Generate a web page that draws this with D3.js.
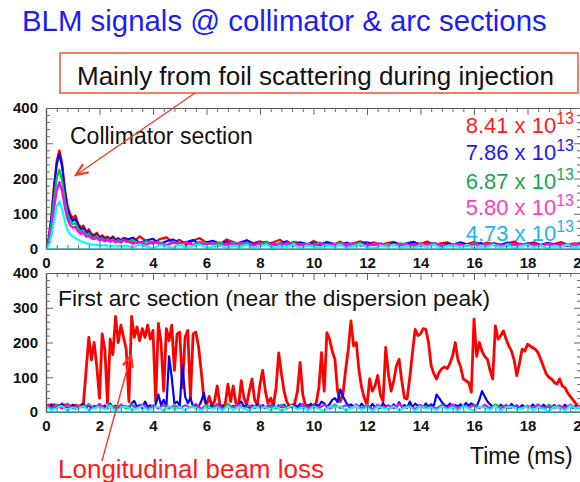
<!DOCTYPE html>
<html>
<head>
<meta charset="utf-8">
<script src="https://cdn.jsdelivr.net/npm/d3@7"></script>
<style>
  body { margin: 0; background: #fff; }
  svg { display: block; }
  text { font-family: "Liberation Sans", Arial, Helvetica, sans-serif; }
</style>
</head>
<body>
<svg width="580" height="482"></svg>
<script>
// intensities (protons per pulse) shown in the legend
const intensities = ["8.41", "7.86", "6.87", "5.80", "4.73"];
const seriesColors = ["#ff0000", "#0000ff", "#00c83c", "#ff00ff", "#00ffff"];
const legendColors = ["#ff1a1a", "#1a1aff", "#1aa650", "#ff3cc8", "#19b6f0"];
const xTicks = [0, 2, 4, 6, 8, 10, 12, 14, 16, 18, 20];
const yTicks = [0, 100, 200, 300, 400];

// collimator section, t = 0..2.9 step 0.1 then 3..20 step 0.25
const colRed = [8,30,90,180,250,280,245,175,125,100, 88,95,72,62,66,50,56,43,40,46, 33,39,31,35,29,36,27,31,25,32,
  30,18,36,22,15,28,33,19,26,12, 24,31,17,21,13,27,20,11,25,16, 22,14,19,26,12,20,17,10,23,15,
  18,12,21,9,16,22,14,19,11,17, 20,13,9,18,15,21,12,16,19,10, 17,14,20,11,18,13,9,16,21,12,
  15,19,11,17,14,20,12,16,13];
const colBlue = [6,25,85,170,240,270,235,165,115,92, 80,86,66,56,60,45,50,38,36,41, 30,35,28,31,26,32,24,28,23,29,
  26,32,17,24,29,14,22,27,16,20, 25,13,19,23,15,21,11,18,24,14, 17,20,12,16,22,10,19,14,17,11,
  20,15,12,18,9,16,19,13,15,10, 18,12,16,20,11,14,17,9,15,13, 19,11,14,17,10,16,12,18,13,9,
  16,14,11,17,12,15,10,14,12];
const colGreen = [5,20,70,140,200,225,195,140,100,80, 70,74,58,50,53,40,44,34,32,37, 27,31,25,28,23,28,21,25,20,26,
  20,25,14,22,17,19,11,21,15,18, 12,20,16,13,19,10,17,14,18,11, 15,19,9,16,13,17,10,15,12,18,
  9,14,16,11,13,17,8,15,12,14, 10,16,13,9,15,11,17,12,10,14, 13,9,16,11,14,12,8,15,13,10,
  14,12,9,15,11,13,10,14,11];
const colMagenta = [4,16,55,115,165,190,165,120,85,68, 60,63,50,43,46,35,38,30,28,32, 24,27,22,25,20,25,19,22,18,23,
  23,15,19,12,21,16,10,18,14,20, 11,17,13,19,9,16,12,18,14,10, 17,12,15,9,18,11,14,13,8,16,
  12,15,10,14,17,9,13,11,16,8, 14,12,10,15,9,13,16,11,8,14, 12,10,15,9,13,11,14,8,12,15,
  10,13,9,14,11,12,8,13,10];
const colCyan = [2,10,35,80,120,135,115,80,55,42, 35,32,26,22,20,16,15,13,12,12, 11,10,11,9,10,9,10,8,9,8,
  10,4,13,7,2,11,8,3,12,5, 9,13,3,7,11,2,10,6,12,4, 8,12,3,9,5,13,2,10,7,4,
  11,6,12,3,8,13,5,2,10,7, 12,4,9,2,11,6,13,3,8,10, 5,12,2,9,7,13,4,11,3,8,
  12,5,10,2,9,6,13,4,10];

// first arc section, red & blue on 0.1 ms grid
const arcRed = [15,20,14,22,16,19,13,21,15,18,
  14,20,16,19,25,120,215,150,200,130,
  40,225,180,25,210,165,275,200,250,215,
  180,30,275,215,245,205,240,215,250,210,
  235,30,255,200,60,240,205,250,120,225,
  230,70,215,235,40,225,230,190,120,40,
  20,45,18,30,75,20,15,22,80,30,
  75,25,18,90,40,20,60,95,35,20,
  80,120,60,25,40,18,70,170,110,60,
  30,15,20,25,60,143,50,18,20,15,
  20,25,70,171,60,228,210,175,152,60,
  30,50,120,180,262,190,200,120,70,40,
  20,95,60,75,105,50,30,186,110,60,
  90,133,152,90,40,38,100,170,238,220,
  225,240,238,200,133,110,95,115,125,130,
  125,140,162,200,150,130,95,90,85,57,
  267,160,200,175,160,152,120,95,248,210,
  220,233,210,190,175,150,105,140,181,175,
  195,190,185,180,170,150,130,110,100,95,
  85,80,95,75,70,55,45,35,25,15,10];
const arcBlue = [18,12,22,10,20,14,24,11,19,13,
  21,10,18,15,23,12,20,11,17,14,
  22,12,19,10,24,13,18,11,21,15,
  17,12,25,32,14,20,11,30,16,19,
  12,22,50,20,35,14,160,100,25,30,
  18,135,45,25,40,15,20,14,30,55,
  18,12,20,14,22,11,19,13,21,12,
  18,14,23,30,15,20,12,19,14,22,
  13,20,11,18,15,22,12,19,14,21,
  11,18,13,20,15,23,12,19,14,24,
  13,20,18,30,25,14,22,35,40,28,
  65,45,30,18,22,14,20,12,24,15,
  19,12,23,14,20,11,25,15,19,13,
  22,12,28,15,20,12,30,14,24,18,
  20,13,25,15,22,18,50,40,28,20,
  15,24,13,20,16,22,14,26,18,25,
  20,16,35,60,45,30,22,15,20,13,
  21,14,19,12,23,15,18,11,20,14,
  18,12,22,13,19,11,21,14,17,12,
  20,13,18,11,21,14,19,12,17,13,15];
// green, magenta, cyan on 0.2 ms grid
const arcGreen = [16,10,22,12,18,9,20,13,24,11, 17,10,21,14,19,9,23,12,18,10,
  20,13,17,9,22,11,19,14,16,10, 21,12,18,9,24,13,17,11,20,10,
  19,14,16,9,22,12,18,10,21,13, 17,9,20,12,23,10,18,14,16,11,
  22,9,19,13,17,10,21,12,18,9, 20,14,16,11,22,10,19,13,17,9,
  21,12,18,10,23,14,16,11,20,9, 19,13,17,10,22,12,18,9,21,14, 16];
const arcMagenta = [22,12,18,9,25,11,16,13,20,10, 24,12,17,9,21,14,19,10,23,11,
  18,9,22,13,16,10,20,12,24,9, 17,11,21,10,19,13,23,9,18,12,
  20,10,22,14,17,9,19,11,24,10, 18,13,21,9,16,12,20,10,23,11,
  17,9,22,12,19,10,24,13,18,9, 21,11,16,10,20,12,23,9,18,14,
  19,10,22,11,17,9,21,13,20,10, 18,12,23,9,16,11,20,10,22,12, 17];
const arcCyan = [16,5,12,18,3,14,9,17,4,11, 15,7,18,2,13,16,6,10,17,4,
  12,15,3,18,8,14,5,16,11,2, 17,9,13,4,18,6,15,11,3,16,
  10,14,5,17,2,12,18,7,13,4, 16,9,3,15,12,17,5,10,18,6,
  14,2,16,11,8,17,4,13,15,3, 18,9,12,5,16,7,14,2,17,10,
  4,15,12,6,18,3,13,16,8,11, 17,5,14,9,2,16,12,4,18,10, 14];

const svg = d3.select("svg");
const x = d3.scaleLinear().domain([0, 20]).range([46, 581]);
const yTop = d3.scaleLinear().domain([0, 400]).range([249, 108]);
const yBot = d3.scaleLinear().domain([0, 400]).range([412, 273]);

const timesTop = d3.range(30).map(i => i / 10).concat(d3.range(69).map(i => 3 + i * 0.25));
const timesFine = d3.range(201).map(i => i / 10);
const timesCoarse = d3.range(101).map(i => i / 5);

svg.append("defs").append("clipPath").attr("id", "clipTop")
  .append("rect").attr("x", 46).attr("y", 108).attr("width", 535).attr("height", 141);
svg.select("defs").append("clipPath").attr("id", "clipBot")
  .append("rect").attr("x", 46).attr("y", 273).attr("width", 535).attr("height", 139);

function drawSeries(times, vals, y, color, clip, w) {
  const line = d3.line().x(d => x(d[0])).y(d => y(d[1]));
  svg.append("path")
    .datum(times.map((t, i) => [t, vals[i]]))
    .attr("d", line)
    .attr("fill", "none")
    .attr("stroke", color)
    .attr("stroke-width", w)
    .attr("stroke-linejoin", "round")
    .attr("clip-path", "url(#" + clip + ")");
}

// top panel curves
[colRed, colBlue, colGreen, colMagenta, colCyan].forEach((s, i) => {
  drawSeries(timesTop, s, yTop, seriesColors[i], "clipTop", 2.2);
});

// bottom panel curves
drawSeries(timesFine, arcRed, yBot, seriesColors[0], "clipBot", 2.8);
drawSeries(timesFine, arcBlue, yBot, seriesColors[1], "clipBot", 2.2);
drawSeries(timesCoarse, arcGreen, yBot, seriesColors[2], "clipBot", 1.6);
drawSeries(timesCoarse, arcMagenta, yBot, seriesColors[3], "clipBot", 1.6);
drawSeries(timesCoarse, arcCyan, yBot, seriesColors[4], "clipBot", 2);

// axes (ROOT style: ticks inside the frame)
const xMinor = d3.range(0, 20.01, 0.4).filter(v => Math.abs(v / 2 - Math.round(v / 2)) > 1e-6);
const yMinor = d3.range(0, 401, 20).filter(v => v % 100 !== 0);

function frame(y, y0, y1) {
  const g = svg.append("g").attr("class", "frame");
  g.append("g").attr("transform", "translate(0," + y0 + ")")
    .call(d3.axisBottom(x).tickValues(xTicks).tickSize(-7).tickSizeOuter(0).tickPadding(8).tickFormat(d3.format("d")));
  g.append("g").attr("transform", "translate(0," + y0 + ")")
    .call(d3.axisBottom(x).tickValues(xMinor).tickSize(-4).tickSizeOuter(0).tickFormat(""));
  g.append("g").attr("transform", "translate(0," + y1 + ")")
    .call(d3.axisTop(x).tickValues(xTicks).tickSize(-7).tickSizeOuter(0).tickFormat(""));
  g.append("g").attr("transform", "translate(0," + y1 + ")")
    .call(d3.axisTop(x).tickValues(xMinor).tickSize(-4).tickSizeOuter(0).tickFormat(""));
  g.append("g").attr("transform", "translate(46,0)")
    .call(d3.axisLeft(y).tickValues(yTicks).tickSize(-7).tickSizeOuter(0).tickPadding(8));
  g.append("g").attr("transform", "translate(46,0)")
    .call(d3.axisLeft(y).tickValues(yMinor).tickSize(-4).tickSizeOuter(0).tickFormat(""));
  g.append("g").attr("transform", "translate(581,0)")
    .call(d3.axisRight(y).tickValues(yTicks).tickSize(-7).tickSizeOuter(0).tickFormat(""));
  g.append("g").attr("transform", "translate(581,0)")
    .call(d3.axisRight(y).tickValues(yMinor).tickSize(-4).tickSizeOuter(0).tickFormat(""));
  g.selectAll("path.domain").attr("stroke", "#555").attr("stroke-width", 1.2);
  g.selectAll(".tick line").attr("stroke", "#666");
  g.selectAll(".tick text").attr("font-size", 15).attr("font-weight", "bold")
    .attr("fill", "#111").style("font-family", "'Liberation Sans', Arial, sans-serif");
  return g;
}
frame(yTop, 249, 108);
frame(yBot, 412, 273);
// zero lines look teal where cyan meets the axis
svg.selectAll(".zero").data([249, 412]).enter().append("line").attr("class", "zero")
  .attr("x1", 46).attr("x2", 581).attr("y1", d => d).attr("y2", d => d)
  .attr("stroke", "#3aa0a6").attr("stroke-width", 1.5);

// title
svg.append("text").attr("x", 22).attr("y", 31)
  .attr("font-size", 29.4).attr("fill", "#1c1cf5")
  .text("BLM signals @ collimator & arc sections");

// boxed annotation
svg.append("rect").attr("x", 60).attr("y", 53).attr("width", 518).attr("height", 40)
  .attr("fill", "#fff").attr("stroke", "#f0503c").attr("stroke-width", 1.5);
svg.append("text").attr("x", 77).attr("y", 85).attr("font-size", 26).attr("fill", "#111")
  .text("Mainly from foil scattering during injection");

svg.append("text").attr("x", 70).attr("y", 144).attr("font-size", 23).attr("fill", "#111")
  .text("Collimator section");
svg.append("text").attr("x", 58).attr("y", 306).attr("font-size", 22.8).attr("fill", "#111")
  .text("First arc section (near the dispersion peak)");
svg.append("text").attr("x", 470).attr("y", 464).attr("font-size", 23).attr("fill", "#111")
  .text("Time (ms)");
svg.append("text").attr("x", 58).attr("y", 478).attr("font-size", 26).attr("fill", "#ff1a1a")
  .text("Longitudinal beam loss");

// legend
const legendY = [133, 160, 189, 215, 241];
intensities.forEach((v, i) => {
  const t = svg.append("text").attr("x", 574).attr("y", legendY[i])
    .attr("text-anchor", "end").attr("font-size", 22).attr("fill", legendColors[i]);
  t.append("tspan").text(v + " x 10");
  t.append("tspan").attr("dy", -9).attr("font-size", 16).text("13");
});

// arrows
function arrow(x0, y0, x1, y1) {
  const a = Math.atan2(y1 - y0, x1 - x0), L = 13, s = 0.4;
  svg.append("line").attr("x1", x0).attr("y1", y0).attr("x2", x1).attr("y2", y1)
    .attr("stroke", "#f03c28").attr("stroke-width", 1.4);
  const p = d3.path();
  p.moveTo(x1 - L * Math.cos(a - s), y1 - L * Math.sin(a - s));
  p.lineTo(x1, y1);
  p.lineTo(x1 - L * Math.cos(a + s), y1 - L * Math.sin(a + s));
  svg.append("path").attr("d", p.toString()).attr("fill", "none")
    .attr("stroke", "#f03c28").attr("stroke-width", 2.2).attr("stroke-linejoin", "miter");
}
arrow(195, 93, 76, 175);
arrow(102, 461, 131, 355);
</script>
</body>
</html>
